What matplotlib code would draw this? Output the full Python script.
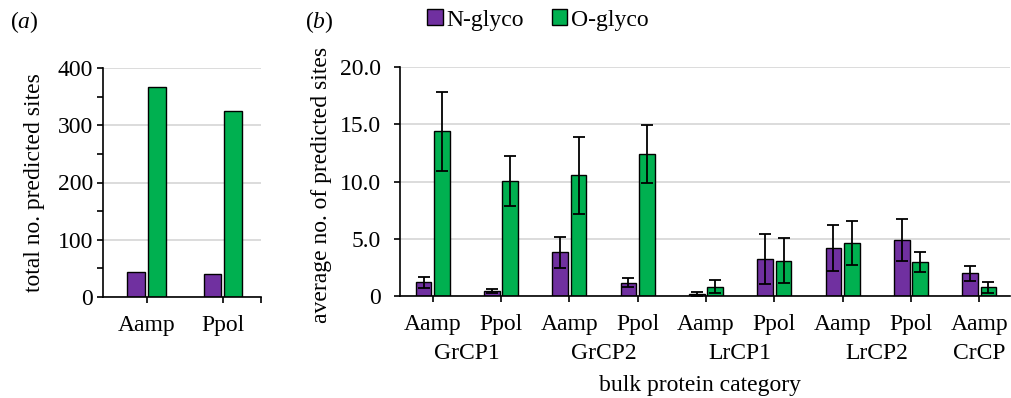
import matplotlib
matplotlib.use("Agg")
from matplotlib import pyplot as plt
from matplotlib.patches import Patch
import numpy as np

plt.rcParams["font.family"] = ["Liberation Serif", "DejaVu Serif"]
plt.rcParams["font.size"] = 17
plt.rcParams["mathtext.fontset"] = "custom"
plt.rcParams["mathtext.rm"] = "Liberation Serif"
plt.rcParams["mathtext.it"] = "Liberation Serif:italic"

PURPLE = "#7030A0"
GREEN = "#00B050"
GRID = "#d9d9d9"

# panel (a): totals
a_species = ["Aamp", "Ppol"]
a_n_glyco = [43, 41]
a_o_glyco = [366, 325]

# panel (b): averages with error bars
b_species = ["Aamp", "Ppol", "Aamp", "Ppol", "Aamp", "Ppol", "Aamp", "Ppol", "Aamp"]
b_groups = ["GrCP1", "GrCP2", "LrCP1", "LrCP2", "CrCP"]
b_n_glyco = [1.2, 0.44, 3.81, 1.16, 0.17, 3.23, 4.19, 4.92, 1.98]
b_n_err = [0.48, 0.2, 1.33, 0.41, 0.15, 2.2, 1.98, 1.83, 0.67]
b_o_glyco = [14.41, 10.07, 10.54, 12.4, 0.81, 3.08, 4.66, 2.97, 0.76]
b_o_err = [3.45, 2.17, 3.37, 2.5, 0.56, 1.96, 1.92, 0.87, 0.46]

W, H = 1012, 398
fig = plt.figure(figsize=(W / 100, H / 100), dpi=100)
ax_a = fig.add_axes([103 / W, (H - 297) / H, 158 / W, 229 / H])
ax_b = fig.add_axes([400 / W, (H - 296) / H, 610 / W, 229 / H])

width = 0.23
off = 0.135


def style_axis(ax, ypad):
    for side in ("top", "right"):
        ax.spines[side].set_visible(False)
    for side in ("left", "bottom"):
        ax.spines[side].set_linewidth(1.2)
    ax.yaxis.grid(True, color=GRID, linewidth=1.3)
    ax.set_axisbelow(True)
    ax.tick_params(axis="both", which="both", direction="out", length=4, width=1.2)
    ax.tick_params(axis="y", pad=ypad)
    ax.tick_params(axis="x", pad=9)


# ---- panel (a)
xa = np.arange(len(a_species))
ax_a.bar(xa - off, a_n_glyco, width, color=PURPLE, edgecolor="black", linewidth=1)
ax_a.bar(xa + off, a_o_glyco, width, color=GREEN, edgecolor="black", linewidth=1)
ax_a.set_xlim(-0.57, 1.5)
ax_a.set_ylim(0, 400)
ax_a.set_yticks([0, 100, 200, 300, 400])
ax_a.set_yticks([50, 150, 250, 350], minor=True)
ax_a.set_xticks(list(xa) + [1.5])
ax_a.set_xticklabels(a_species + [""])
style_axis(ax_a, 3)
ax_a.set_ylabel("total no. predicted sites", labelpad=9)

# ---- panel (b)
xb = np.arange(len(b_species))
ekw = dict(elinewidth=1.3, capthick=1.3, ecolor="black")
ax_b.bar(xb - off, b_n_glyco, width, yerr=b_n_err, capsize=4,
         color=PURPLE, edgecolor="black", linewidth=1, error_kw=ekw)
ax_b.bar(xb + off, b_o_glyco, width, yerr=b_o_err, capsize=4,
         color=GREEN, edgecolor="black", linewidth=1, error_kw=ekw)
ax_b.set_xlim(-0.48, 8.45)
ax_b.set_ylim(0, 20)
ax_b.set_yticks([0, 5, 10, 15, 20])
ax_b.set_yticklabels(["0", "5.0", "10.0", "15.0", "20.0"])
ax_b.set_xticks(xb)
ax_b.set_xticklabels(b_species)
style_axis(ax_b, 10)

# group labels under species pairs
for i, g in enumerate(b_groups):
    xc = 2 * i + 0.5 if i < 4 else 2 * i
    ax_b.text(xc, -0.25, g, transform=ax_b.get_xaxis_transform(),
              ha="center", va="center")

fig.text(700 / W, 1 - 386 / H, "bulk protein category", ha="center", va="center")
fig.text(322 / W, 1 - 185 / H, "average no. of predicted sites",
         rotation=90, ha="center", va="center")

fig.text(10 / W, 1 - 22 / H, "($a$)", ha="left", va="center")
fig.text(305 / W, 1 - 22 / H, "($b$)", ha="left", va="center")

handles = [Patch(facecolor=PURPLE, edgecolor="black", label="N-glyco"),
           Patch(facecolor=GREEN, edgecolor="black", label="O-glyco")]
fig.legend(handles=handles, loc="center", bbox_to_anchor=(538 / W, 1 - 20 / H),
           ncol=2, frameon=False, handlelength=0.65, handleheight=0.65,
           handletextpad=0.15, columnspacing=1.2, borderpad=0)

fig.savefig("out.png", dpi=100)
